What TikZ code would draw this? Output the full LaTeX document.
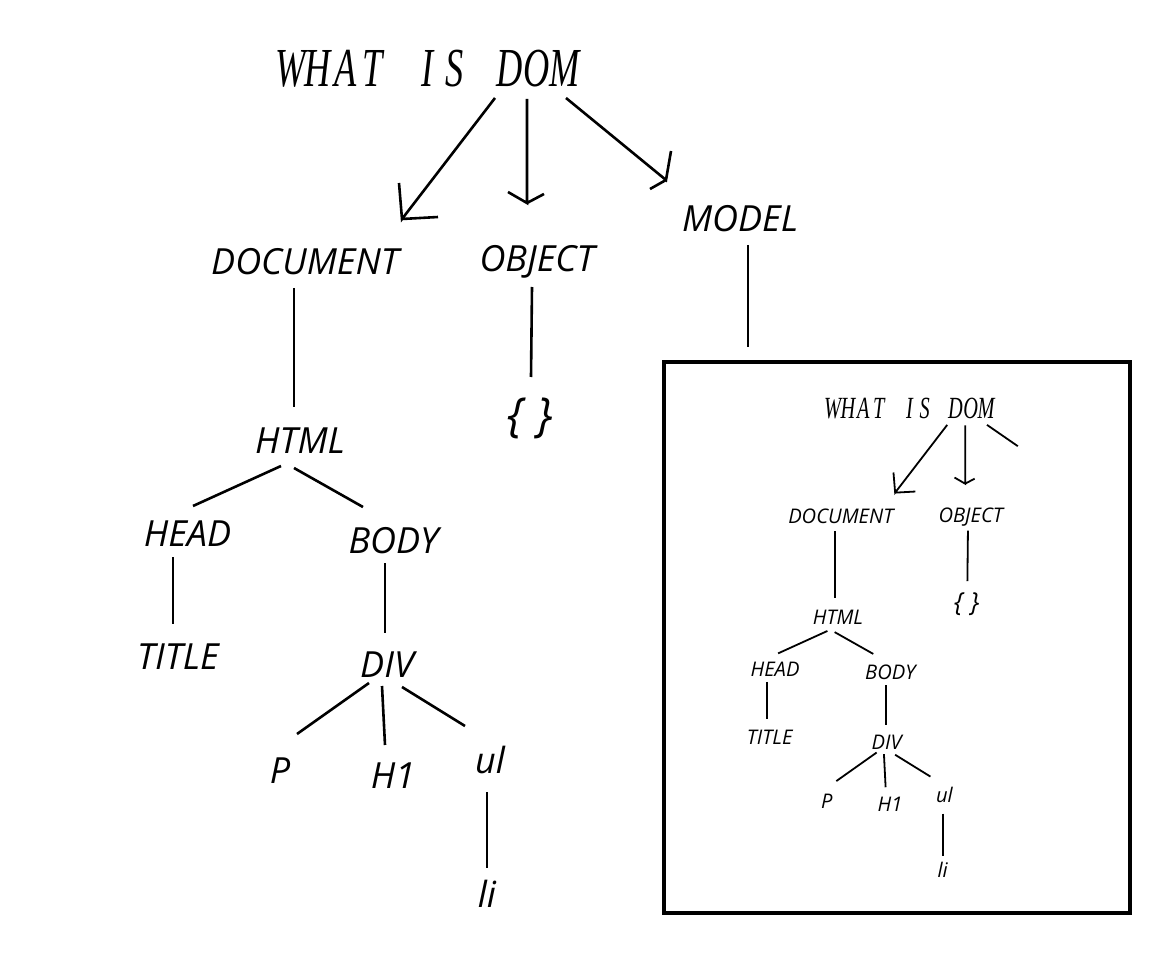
\documentclass[tikz,border=0pt]{standalone}
\usepackage{fontspec}
\newfontfamily\lblfont{Open Sans}
\newfontfamily\ttlfont{Liberation Serif}
\newcommand\tch[1]{\makebox[27.4pt]{\scalebox{0.66}[1]{#1}}}
\tikzset{
  lbl/.style={font=\lblfont\itshape\fontsize{36}{40}\selectfont, anchor=base, inner sep=0pt},
  ttl/.style={font=\ttlfont\itshape\fontsize{55}{60}\selectfont, anchor=base, inner sep=0pt},
  brc/.style={font=\lblfont\itshape\fontsize{47}{50}\selectfont, inner sep=0pt},
  conn/.style={draw=black},
  frame/.style={draw=black, line width=3.4pt},
}
\newcommand\domtree{%
  % nodes
  \node[ttl] (dom) at (427.5,87) {\tch{W}\tch{H}\tch{A}\tch{T}\tch{}\tch{I}\tch{S}\tch{}\tch{D}\tch{O}\tch{M}};
  \node[lbl] (doc) at (305,275) {DOCUMENT};
  \node[lbl] (obj) at (537,272) {OBJECT};
  \node[brc] (brc) at (530,418) {\{ \}};
  \node[lbl] (html) at (300,454) {HTML};
  \node[lbl] (head) at (187.5,547) {HEAD};
  \node[lbl] (body) at (393.5,553) {BODY};
  \node[lbl] (title) at (178,669) {TITLE};
  \node[lbl] (div) at (387,677) {DIV};
  \node[lbl] (p) at (280,783) {P};
  \node[lbl] (h1) at (393,788) {H1};
  \node[lbl] (ul) at (490,773) {ul};
  \node[lbl] (li) at (487,907) {li};
  % connector ends
  \coordinate (dom-l) at (495,98);
  \coordinate (doc-a) at (402,219);
  \coordinate (dom-m) at (527,99);
  \coordinate (obj-a) at (527,203);
  \coordinate (doc-b) at (294,288);
  \coordinate (html-t) at (294,407);
  \coordinate (obj-b) at (532,287);
  \coordinate (brc-t) at (531,377);
  \coordinate (html-l) at (281,466);
  \coordinate (head-t) at (193,506);
  \coordinate (html-r) at (294,468);
  \coordinate (body-t) at (363,507);
  \coordinate (head-b) at (173,557);
  \coordinate (title-t) at (173,624);
  \coordinate (body-b) at (385,563);
  \coordinate (div-t) at (385,633);
  \coordinate (div-l) at (369,683);
  \coordinate (p-t) at (297,734);
  \coordinate (div-m) at (382,686);
  \coordinate (h1-t) at (385,745);
  \coordinate (div-r) at (402,687);
  \coordinate (ul-t) at (465,726);
  \coordinate (ul-b) at (487,792);
  \coordinate (li-t) at (487,868);
  % connectors
  \draw[conn] (dom-l) -- (doc-a) -- ++(-3,-36) (doc-a) -- ++(36,-2);
  \draw[conn] (dom-m) -- (obj-a) -- ++(-19,-11) (obj-a) -- ++(17,-9);
  \draw[conn] (doc-b) -- (html-t);
  \draw[conn] (obj-b) -- (brc-t);
  \draw[conn] (html-l) -- (head-t);
  \draw[conn] (html-r) -- (body-t);
  \draw[conn] (head-b) -- (title-t);
  \draw[conn] (body-b) -- (div-t);
  \draw[conn] (div-l) -- (p-t);
  \draw[conn] (div-m) -- (h1-t);
  \draw[conn] (div-r) -- (ul-t);
  \draw[conn] (ul-b) -- (li-t);
}
\begin{document}
\begin{tikzpicture}[x=1pt,y=-1pt]
  \useasboundingbox (0,0) rectangle (1152,957);
  \begin{scope}[line width=2.6pt]
    \domtree
    \node[lbl] (model) at (740,232) {MODEL};
    \coordinate (dom-r) at (566,98);
    \coordinate (model-a) at (666,180);
    \coordinate (model-b) at (748,245);
    \coordinate (box-t) at (748,347);
    \draw[conn] (dom-r) -- (model-a) -- ++(5,-29) (model-a) -- ++(-16,9);
    \draw[conn] (model-b) -- (box-t);
    \node[frame, minimum width=466pt, minimum height=551pt, inner sep=0pt] (box) at (897,637.5) {};
  \end{scope}
  \begin{scope}[shift={(670,370)}, scale=0.56, transform shape, name prefix=in-, line width=1.8pt]
    \domtree
    \coordinate (dom-r) at (566,98);
    \coordinate (cut) at (621,136);
    \draw[conn] (dom-r) -- (cut);
  \end{scope}
\end{tikzpicture}
\end{document}
